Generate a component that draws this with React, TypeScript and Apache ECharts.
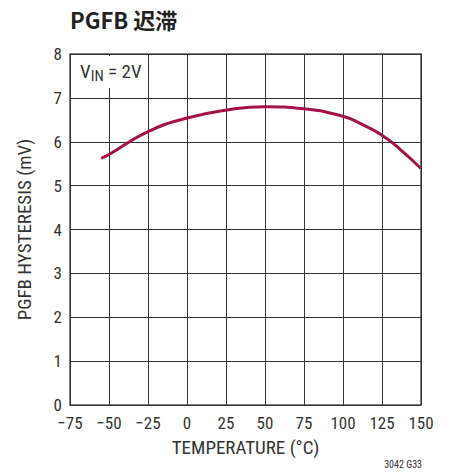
import React, { useEffect, useRef } from "react";
import * as echarts from "echarts";

const temps = [-55, -50, -25, 0, 25, 50, 75, 100, 112.5, 125, 137.5, 150];
const hyst = [5.62, 5.71, 6.23, 6.54, 6.72, 6.8, 6.75, 6.58, 6.39, 6.15, 5.8, 5.39];
const xTicks = [-75, -50, -25, 0, 25, 50, 75, 100, 125, 150];

const FONT = "'Liberation Sans Narrow', 'Roboto Condensed', 'Liberation Sans', sans-serif";

export default function App() {
  const ref = useRef<HTMLDivElement>(null);
  useEffect(() => {
    document.body.style.margin = "0";
    document.body.style.overflow = "hidden";
    const chart = echarts.init(ref.current!, null, { renderer: "svg" });
    chart.setOption({
      animation: false,
      backgroundColor: "#fff",
      title: {
        text: "PGFB 迟滞",
        left: 70,
        top: 8,
        padding: 0,
        textStyle: {
          fontSize: 22,
          fontWeight: "bold",
          color: "#222",
          fontFamily: "'Liberation Sans Narrow', 'Noto Sans CJK SC', sans-serif",
        },
      },
      grid: { left: 70, right: 31, top: 54, bottom: 69, show: true, borderColor: "#555", borderWidth: 1.5 },
      xAxis: {
        type: "value",
        min: -75,
        max: 150,
        interval: 25,
        name: "TEMPERATURE (°C)",
        nameLocation: "middle",
        nameGap: 33,
        nameTextStyle: { fontSize: 19, color: "#333", fontFamily: FONT },
        axisLine: { show: false },
        axisTick: { show: false },
        axisLabel: {
          fontSize: 17,
          color: "#333",
          fontFamily: FONT,
          margin: 9,
          formatter: (v: number) => (xTicks.includes(v) ? String(v).replace("-", "\u2212") : ""),
        },
        splitLine: { show: true, lineStyle: { color: "#333", width: 1 } },
      },
      yAxis: {
        type: "value",
        min: 0,
        max: 8,
        interval: 1,
        name: "PGFB HYSTERESIS (mV)",
        nameLocation: "middle",
        nameGap: 36,
        nameTextStyle: { fontSize: 19, color: "#333", fontFamily: FONT },
        axisLine: { show: false },
        axisTick: { show: false },
        axisLabel: { fontSize: 17, color: "#333", fontFamily: FONT, margin: 8 },
        splitLine: { show: true, lineStyle: { color: "#333", width: 1 } },
      },
      series: [
        {
          type: "line",
          data: temps.map((t, i) => [t, hyst[i]]),
          smooth: 0.5,
          showSymbol: false,
          lineStyle: { color: "#a3134a", width: 3 },
        },
      ],
      graphic: [
        {
          type: "rect",
          left: 73,
          top: 56,
          shape: { width: 70, height: 32 },
          style: { fill: "#fff" },
          z: 10,
        },
        {
          type: "text",
          left: 80,
          top: 62,
          z: 11,
          style: {
            text: "V{sub|IN} = 2V",
            fontSize: 19,
            fill: "#333",
            fontFamily: FONT,
            rich: { sub: { fontSize: 15, fill: "#333", fontFamily: FONT, padding: [8, 0, 0, 0] } },
          },
        },
        {
          type: "text",
          right: 30,
          top: 459,
          style: { text: "3042 G33", fontSize: 10, fill: "#333", fontFamily: FONT },
        },
      ],
    });
    return () => chart.dispose();
  }, []);
  return <div ref={ref} style={{ width: 452, height: 474 }} />;
}
